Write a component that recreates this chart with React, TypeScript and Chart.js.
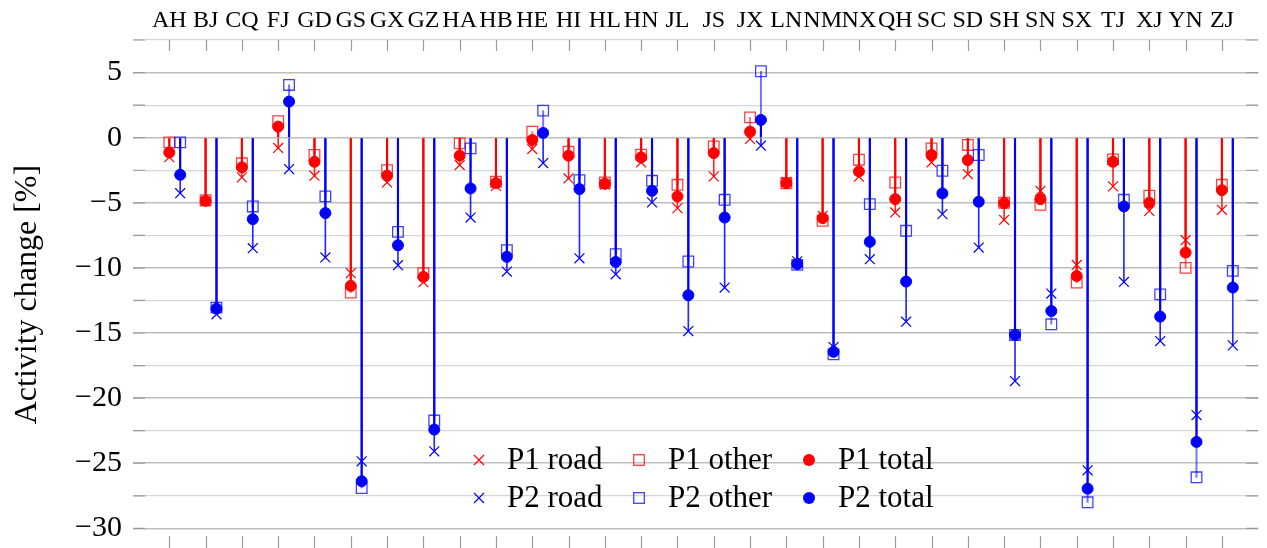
import React, { useEffect, useRef } from 'react';
import { Chart, registerables } from 'chart.js';

Chart.register(...registerables);

const categories = ['AH', 'BJ', 'CQ', 'FJ', 'GD', 'GS', 'GX', 'GZ', 'HA', 'HB', 'HE', 'HI', 'HL', 'HN', 'JL', 'JS', 'JX', 'LN', 'NM', 'NX', 'QH', 'SC', 'SD', 'SH', 'SN', 'SX', 'TJ', 'XJ', 'YN', 'ZJ'];

const p1Road = [-1.5, -4.9, -3.05, -0.79, -2.92, -10.4, -3.44, -11.1, -2.1, -3.7, -0.87, -3.13, -3.6, -1.9, -5.41, -2.97, -0.1, -3.4, -6.0, -3.0, -5.74, -1.9, -2.79, -6.31, -4.08, -9.77, -3.74, -5.62, -7.87, -5.54];
const p1Other = [-0.36, -4.8, -1.97, 1.26, -1.33, -11.9, -2.49, -10.4, -0.44, -3.38, 0.46, -1.08, -3.44, -1.31, -3.62, -0.67, 1.56, -3.5, -6.38, -1.69, -3.44, -0.82, -0.56, -5.0, -5.15, -11.13, -1.67, -4.46, -10.0, -3.62];
const p1Total = [-1.13, -4.85, -2.28, 0.85, -1.85, -11.38, -2.92, -10.69, -1.38, -3.49, -0.18, -1.38, -3.54, -1.51, -4.51, -1.18, 0.46, -3.49, -6.18, -2.59, -4.72, -1.33, -1.72, -5.03, -4.72, -10.62, -1.85, -5.0, -8.82, -4.03];
const p2Road = [-4.26, -13.56, -8.49, -2.41, -9.2, -24.85, -9.79, -24.08, -6.13, -10.28, -1.95, -9.26, -10.49, -4.97, -14.85, -11.51, -0.62, -9.5, -16.08, -9.33, -14.13, -5.87, -8.44, -18.69, -11.97, -25.54, -11.08, -15.62, -21.3, -15.95];
const p2Other = [-0.36, -13.05, -5.28, 4.05, -4.51, -26.9, -7.23, -21.72, -0.82, -8.64, 2.08, -3.26, -8.95, -3.31, -9.51, -4.77, 5.1, -9.77, -16.64, -5.1, -7.15, -2.54, -1.33, -15.15, -14.33, -28.0, -4.77, -12.03, -26.08, -10.23];
const p2Total = [-2.85, -13.13, -6.26, 2.77, -5.79, -26.38, -8.26, -22.41, -3.9, -9.15, 0.36, -3.95, -9.54, -4.08, -12.1, -6.13, 1.36, -9.7, -16.44, -8.0, -11.05, -4.28, -4.92, -15.15, -13.31, -26.95, -5.28, -13.74, -23.36, -11.51];

const yTicks = [7.5, 5, 2.5, 0, -2.5, -5, -7.5, -10, -12.5, -15, -17.5, -20, -22.5, -25, -27.5, -30];

const P1_OFFSET = 0;
const P2_OFFSET = 0.3;
const Y_MIN = -31.6;
const Y_MAX = 7.5;

const RED = '#ff0000';
const BLUE = '#0000ff';
const FONT = "'Liberation Serif', 'Times New Roman', serif";

const pts = (values: number[], off: number) => values.map((v, i) => ({ x: i + off, y: v }));
const isMajor = (v: number) => Math.abs(v / 5 - Math.round(v / 5)) < 1e-6;
const fmt = (v: number) => (v < 0 ? '\u2212' + Math.abs(v) : String(v));

export default function App() {
  const ref = useRef<HTMLCanvasElement>(null);

  useEffect(() => {
    if (!ref.current) return;

    const tickPlugin = {
      id: 'inwardTicks',
      beforeDatasetsDraw(chart: any) {
        const { ctx, chartArea: a, scales } = chart;
        const xs = scales.x;
        const ys = scales.y;
        ctx.save();
        ctx.strokeStyle = '#9a9a9a';
        ctx.lineWidth = 1.2;
        ctx.beginPath();
        categories.forEach((_, i) => {
          const px = Math.round(xs.getPixelForValue(i)) + 0.5;
          ctx.moveTo(px, a.top);
          ctx.lineTo(px, a.top + 11);
          ctx.moveTo(px, a.bottom);
          ctx.lineTo(px, a.bottom - 13);
        });
        ys.ticks.forEach((t: any) => {
          const py = ys.getPixelForValue(t.value);
          ctx.moveTo(a.left, py);
          ctx.lineTo(a.left + 12, py);
          ctx.moveTo(a.right, py);
          ctx.lineTo(a.right - 12, py);
        });
        ctx.stroke();
        ctx.restore();
      },
    };

    const legendPlugin = {
      id: 'innerLegend',
      afterDraw(chart: any) {
        const ctx = chart.ctx;
        ctx.save();
        ctx.font = `31px ${FONT}`;
        ctx.textBaseline = 'alphabetic';
        ctx.textAlign = 'left';
        const rows = [
          { color: RED, alpha: 'rgba(255,0,0,0.75)', name: 'P1', base: 469, cy: 460 },
          { color: BLUE, alpha: 'rgba(0,0,255,0.75)', name: 'P2', base: 507, cy: 498 },
        ];
        const cols = [
          { kind: 'road', sx: 479, tx: 507 },
          { kind: 'other', sx: 639, tx: 668 },
          { kind: 'total', sx: 809, tx: 838 },
        ];
        rows.forEach((r) => {
          cols.forEach((c) => {
            if (c.kind === 'road') {
              ctx.strokeStyle = r.color;
              ctx.lineWidth = 1.2;
              ctx.beginPath();
              ctx.moveTo(c.sx - 5, r.cy - 5);
              ctx.lineTo(c.sx + 5, r.cy + 5);
              ctx.moveTo(c.sx - 5, r.cy + 5);
              ctx.lineTo(c.sx + 5, r.cy - 5);
              ctx.stroke();
            } else if (c.kind === 'other') {
              ctx.strokeStyle = r.alpha;
              ctx.lineWidth = 1.3;
              ctx.strokeRect(c.sx - 5.3, r.cy - 5.3, 10.6, 10.6);
            } else {
              ctx.fillStyle = r.color;
              ctx.beginPath();
              ctx.arc(c.sx, r.cy, 6, 0, Math.PI * 2);
              ctx.fill();
            }
            ctx.fillStyle = '#000';
            ctx.fillText(`${r.name} ${c.kind}`, c.tx, r.base);
          });
        });
        ctx.restore();
      },
    };

    const combSpecs = [
      { values: p1Road, off: P1_OFFSET, color: 'rgba(255,0,0,0.85)', w: 1 },
      { values: p1Other, off: P1_OFFSET, color: 'rgba(255,0,0,0.55)', w: 1.3 },
      { values: p1Total, off: P1_OFFSET, color: RED, w: 1.5 },
      { values: p2Road, off: P2_OFFSET, color: 'rgba(0,0,255,0.85)', w: 1 },
      { values: p2Other, off: P2_OFFSET, color: 'rgba(0,0,255,0.55)', w: 1.3 },
      { values: p2Total, off: P2_OFFSET, color: BLUE, w: 1.5 },
    ];

    const combs = combSpecs.map((s, k) => ({
      type: 'bar',
      data: pts(s.values, s.off),
      backgroundColor: s.color,
      borderWidth: 0,
      barThickness: s.w,
      grouped: false,
      order: 20 + k,
    }));

    const markerSpecs = [
      { label: 'P1 road', values: p1Road, off: P1_OFFSET, style: 'crossRot', r: 7, bw: 1.2, border: RED, fill: RED, order: 5 },
      { label: 'P1 other', values: p1Other, off: P1_OFFSET, style: 'rect', r: 7.5, bw: 1.3, border: 'rgba(255,0,0,0.75)', fill: 'rgba(0,0,0,0)', order: 4 },
      { label: 'P1 total', values: p1Total, off: P1_OFFSET, style: 'circle', r: 5.5, bw: 1, border: RED, fill: RED, order: 3 },
      { label: 'P2 road', values: p2Road, off: P2_OFFSET, style: 'crossRot', r: 7, bw: 1.2, border: BLUE, fill: BLUE, order: 2 },
      { label: 'P2 other', values: p2Other, off: P2_OFFSET, style: 'rect', r: 7.5, bw: 1.3, border: 'rgba(0,0,255,0.75)', fill: 'rgba(0,0,0,0)', order: 1 },
      { label: 'P2 total', values: p2Total, off: P2_OFFSET, style: 'circle', r: 5.5, bw: 1, border: BLUE, fill: BLUE, order: 0 },
    ];

    const markers = markerSpecs.map((m) => ({
      type: 'scatter',
      label: m.label,
      data: pts(m.values, m.off),
      pointStyle: m.style,
      pointRadius: m.r,
      pointHoverRadius: m.r,
      pointBorderWidth: m.bw,
      borderColor: m.border,
      backgroundColor: m.fill,
      showLine: false,
      order: m.order,
    }));

    const chart = new Chart(ref.current, {
      type: 'scatter',
      data: { datasets: [...combs, ...markers] as any },
      options: {
        responsive: false,
        animation: false,
        events: [],
        layout: { padding: 0 },
        plugins: { legend: { display: false }, tooltip: { enabled: false } },
        scales: {
          x: {
            type: 'linear',
            position: 'top',
            bounds: 'data',
            min: -1,
            max: 30,
            offset: false,
            grid: { display: false, drawTicks: false },
            border: { display: false },
            ticks: {
              autoSkip: false,
              maxRotation: 0,
              minRotation: 0,
              padding: 5,
              color: '#000',
              font: { family: FONT, size: 24 },
              callback: (v: any) => categories[Math.round(Number(v))] ?? '',
            },
            afterBuildTicks: (s: any) => {
              s.ticks = categories.map((_, i) => ({ value: i }));
              s.min = -1;
              s.max = 30;
            },
            afterFit: (s: any) => {
              s.height = 40;
              s.paddingLeft = 0;
              s.paddingRight = 0;
            },
          },
          y: {
            type: 'linear',
            bounds: 'data',
            min: Y_MIN,
            max: Y_MAX,
            grid: {
              drawTicks: false,
              color: (c: any) => (isMajor(c.tick.value) ? '#bdbdbd' : '#d6d6d6'),
              lineWidth: (c: any) => (isMajor(c.tick.value) ? 1.6 : 1.2),
            },
            border: { display: false },
            ticks: {
              autoSkip: false,
              padding: 11,
              color: '#000',
              font: { family: FONT, size: 30 },
              callback: (v: any) => (isMajor(Number(v)) ? fmt(Number(v)) : ''),
            },
            title: {
              display: true,
              text: 'Activity change [%]',
              color: '#000',
              font: { family: FONT, size: 32 },
              padding: { top: 8, bottom: 0 },
            },
            afterBuildTicks: (s: any) => {
              s.ticks = yTicks.map((v) => ({ value: v }));
              s.min = Y_MIN;
              s.max = Y_MAX;
            },
            afterFit: (s: any) => {
              s.width = 133;
              s.paddingTop = 0;
              s.paddingBottom = 0;
            },
          },
        },
      } as any,
      plugins: [tickPlugin, legendPlugin],
    });

    return () => chart.destroy();
  }, []);

  return (
    <div style={{ position: 'absolute', left: 0, top: 0, width: 1267, height: 548, overflow: 'hidden', background: '#fff' }}>
      <canvas ref={ref} width={1267} height={558} style={{ display: 'block' }} />
    </div>
  );
}
